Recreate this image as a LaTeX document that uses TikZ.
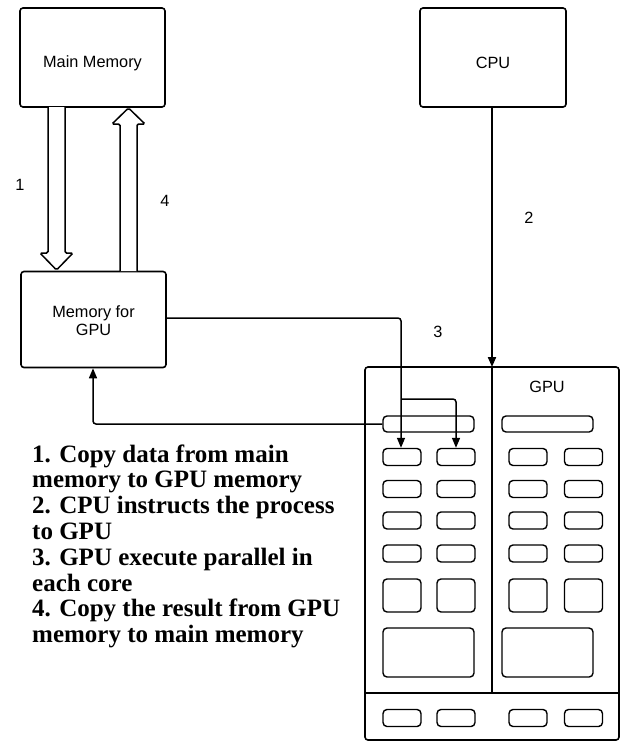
\documentclass[tikz,border=0pt]{standalone}
\usepackage{fontspec}
\setmainfont{Liberation Serif}
\newfontfamily\lsans{Liberation Sans}
\usetikzlibrary{arrows.meta}
\tikzset{
  boxn/.style={draw, line width=1.6pt, rounded corners=3pt, inner sep=0pt},
  core/.style={draw, line width=1.4pt, rounded corners=4pt, inner sep=0pt},
  lab/.style={font=\lsans\fontsize{16.3}{18}\selectfont, inner sep=0pt},
  listtxt/.style={font=\bfseries\fontsize{25}{26}\selectfont, anchor=base west, inner sep=0pt},
  conn/.style={line width=1.5pt, rounded corners=3pt},
  tip/.style={-{Triangle[width=8pt,length=10pt]}},
  dbl/.style={draw, line width=1.5pt, fill=white, rounded corners=1.5pt}
}
\begin{document}
\begin{tikzpicture}[x=1pt,y=-1pt]
\useasboundingbox (0,0) rectangle (623,742);
% main boxes
\node[boxn, minimum width=145pt, minimum height=99pt] (mm) at (92.5,57.5) {};
\node[lab] (mmt) at (92.5,63) {Main Memory};
\node[boxn, minimum width=146pt, minimum height=99pt] (cpu) at (493,57.5) {};
\node[lab] (cput) at (493,63) {CPU};
\node[boxn, minimum width=145pt, minimum height=96pt] (gm) at (93.5,319.5) {};
\node[lab, align=center] (gmt) at (93.5,320.5) {Memory for\\GPU};
% GPU
\node[boxn, minimum width=254pt, minimum height=373pt] (gpu) at (492,553.5) {};
\coordinate (dtop) at (492,367);
\coordinate (dbot) at (492,693);
\draw[line width=1.6pt] (dtop) -- (dbot);
\coordinate (hl) at (365,693);
\coordinate (hr) at (619,693);
\draw[line width=1.6pt] (hl) -- (hr);
\node[lab] (gput) at (547,387) {GPU};
% bars
\node[core, minimum width=91pt, minimum height=16pt] (bar1) at (428.5,424) {};
\node[core, minimum width=91pt, minimum height=16pt] (bar2) at (547.5,424) {};
% cores
\foreach \c/\x in {1/402,2/456,3/528,4/583.5}{
  \foreach \r/\y in {1/457,2/489,3/520.5,4/553.5}{
    \node[core, minimum width=38pt, minimum height=17pt] (c\r-\c) at (\x,\y) {};
  }
  \node[core, minimum width=38pt, minimum height=33pt] (s-\c) at (\x,595.5) {};
  \node[core, minimum width=38pt, minimum height=17pt] (b-\c) at (\x,718) {};
}
\node[core, minimum width=91pt, minimum height=49pt] (big1) at (428.5,652.5) {};
\node[core, minimum width=91pt, minimum height=49pt] (big2) at (547.5,652.5) {};
% double arrows
\draw[dbl] (48,107) -- (48,253) -- (40,253) -- (56.5,270) -- (73,253) -- (65,253) -- (65,107);
\draw[dbl] (120,271) -- (120,124) -- (112,124) -- (128.5,108) -- (145,124) -- (137,124) -- (137,271);
% CPU arrow
\draw[line width=2pt, tip] (cpu.south -| dtop) -- (dtop);
% connector 3
\coordinate (j1) at (401,318);
\coordinate (j2) at (401,399);
\coordinate (j3) at (456,399);
\draw[conn, tip] (gm.east |- j1) -- (j1) -- (c1-1.north -| j1);
\draw[conn, tip] (j2) -- (j3) -- (c1-2.north);
% back connector
\coordinate (k1) at (93,424);
\draw[conn, tip] (bar1.west) -- (k1) -- (gm.south -| k1);
% step labels
\node[lab] (n1) at (20,185) {1};
\node[lab] (n4) at (165,201) {4};
\node[lab] (n2) at (529,218) {2};
\node[lab] (n3) at (438,332) {3};
% list
\node[listtxt] (l1) at (32,462) {1. Copy data from main};
\node[listtxt] (l2) at (32,487.8) {memory to GPU memory};
\node[listtxt] (l3) at (32,513.6) {2. CPU instructs the process};
\node[listtxt] (l4) at (32,539.4) {to GPU};
\node[listtxt] (l5) at (32,565.2) {3. GPU execute parallel in};
\node[listtxt] (l6) at (32,591) {each core};
\node[listtxt] (l7) at (32,616.8) {4. Copy the result from GPU};
\node[listtxt] (l8) at (32,642.6) {memory to main memory};
\end{tikzpicture}
\end{document}
